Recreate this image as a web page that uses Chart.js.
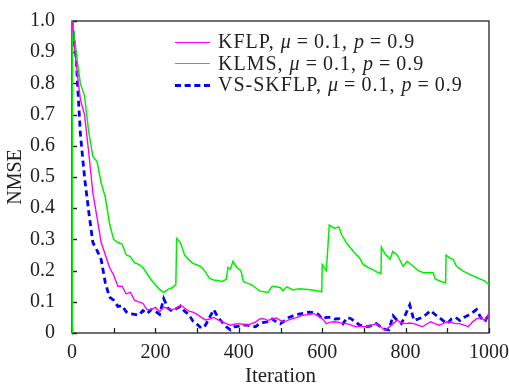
<!DOCTYPE html>
<html>
<head>
<meta charset="utf-8">
<script src="https://cdn.jsdelivr.net/npm/chart.js@4/dist/chart.umd.min.js"></script>
<style>
  html, body { margin: 0; padding: 0; background: #fff; }
  #wrap { position: relative; width: 509px; height: 390px; }
  #legend { position: absolute; left: 175px; top: 31px; font-family: "Liberation Serif", serif; font-size: 20px; color: #222; letter-spacing: 1px; }
  .row { height: 21.5px; line-height: 21.5px; white-space: nowrap; }
  .swatch { display: inline-block; width: 35px; height: 0; vertical-align: middle; margin-right: 8px; position: relative; top: -1px; }
  .eq { margin: 0 5px; }
</style>
</head>
<body>
<div id="wrap">
  <canvas id="chart" width="509" height="390"></canvas>
  <div id="legend"></div>
</div>
<script>
// Data

const iterations = [0, 10, 20, 30, 40, 50, 60, 70, 80, 90, 100, 110, 120, 130, 140, 150, 160, 170, 180, 190,
  200, 210, 220, 230, 240, 250, 260, 270, 280, 290, 300, 310, 320, 330, 340, 350, 360, 370, 380, 390,
  400, 410, 420, 430, 440, 450, 460, 470, 480, 490, 500, 510, 520, 530, 540, 550, 560, 570, 580, 590,
  600, 610, 620, 630, 640, 650, 660, 670, 680, 690, 700, 710, 720, 730, 740, 750, 760, 770, 780, 790,
  800, 810, 820, 830, 840, 850, 860, 870, 880, 890, 900, 910, 920, 930, 940, 950, 960, 970, 980, 990, 1000];

const kflp = [1.0, 0.86, 0.75, 0.70, 0.58, 0.45, 0.37, 0.29, 0.25, 0.21, 0.185, 0.15, 0.15, 0.125, 0.13, 0.105, 0.10, 0.095, 0.075, 0.075,
  0.082, 0.068, 0.083, 0.078, 0.075, 0.078, 0.09, 0.08, 0.07, 0.067, 0.06, 0.05, 0.042, 0.045, 0.05, 0.042, 0.036, 0.03, 0.025, 0.028,
  0.03, 0.028, 0.025, 0.03, 0.035, 0.045, 0.046, 0.04, 0.045, 0.048, 0.04, 0.036, 0.042, 0.046, 0.05, 0.056, 0.058, 0.06, 0.062, 0.055,
  0.046, 0.03, 0.035, 0.036, 0.034, 0.03, 0.03, 0.025, 0.02, 0.022, 0.02, 0.02, 0.025, 0.03, 0.02, 0.009, 0.018, 0.03, 0.041, 0.032,
  0.03, 0.032, 0.03, 0.025, 0.02, 0.028, 0.036, 0.03, 0.025, 0.03, 0.036, 0.034, 0.03, 0.03, 0.025, 0.02, 0.035, 0.045, 0.05, 0.04, 0.065];

const vsskflp = [1.0, 0.88, 0.64, 0.50, 0.39, 0.29, 0.265, 0.235, 0.16, 0.115, 0.105, 0.085, 0.088, 0.068, 0.062, 0.06, 0.057, 0.072, 0.062, 0.075,
  0.07, 0.06, 0.11, 0.08, 0.07, 0.078, 0.085, 0.07, 0.06, 0.038, 0.028, 0.015, 0.025, 0.05, 0.075, 0.05, 0.035, 0.02, 0.01, 0.02,
  0.022, 0.025, 0.025, 0.022, 0.02, 0.03, 0.034, 0.036, 0.045, 0.035, 0.03, 0.04, 0.05, 0.055, 0.06, 0.062, 0.065, 0.067, 0.065, 0.06,
  0.045, 0.05, 0.05, 0.045, 0.046, 0.03, 0.05, 0.045, 0.035, 0.025, 0.022, 0.02, 0.025, 0.03, 0.02, 0.012, 0.01, 0.055, 0.04, 0.03,
  0.06, 0.09, 0.04, 0.045, 0.05, 0.06, 0.072, 0.06, 0.05, 0.04, 0.03, 0.045, 0.05, 0.04, 0.05, 0.057, 0.065, 0.075, 0.05, 0.036, 0.065];

// KLMS has its own iteration points so the jumps stay vertical
const klmsIter = [0, 1, 10, 20, 30, 40, 50, 60, 70, 80, 90, 100, 110, 120, 130, 140, 150, 160, 170, 180, 190, 200, 210, 220, 230, 240, 249,
  251, 260, 270, 280, 290, 300, 310, 320, 330, 340, 350, 360, 370, 374, 380, 386, 395, 405, 411, 420, 430, 440, 450, 460, 470, 480,
  490, 500, 506, 515, 530, 545, 560, 580, 599, 600, 610, 617, 630, 640, 647, 660, 675, 690, 698, 710, 720, 735, 741, 742, 750, 763,
  769, 780, 794, 804, 818, 830, 843, 866, 871, 885, 896, 897, 906, 914, 922, 938, 954, 970, 980, 990, 1000];
const klms = [0, 1.0, 0.9, 0.80, 0.76, 0.645, 0.566, 0.55, 0.48, 0.435, 0.35, 0.30, 0.29, 0.285, 0.25, 0.245, 0.225, 0.22, 0.21, 0.19, 0.17, 0.155, 0.14, 0.13, 0.14, 0.145, 0.155,
  0.303, 0.29, 0.25, 0.235, 0.223, 0.218, 0.212, 0.195, 0.175, 0.17, 0.168, 0.165, 0.172, 0.21, 0.205, 0.23, 0.21, 0.2, 0.165, 0.16, 0.155, 0.145, 0.135, 0.132, 0.13, 0.15,
  0.148, 0.145, 0.135, 0.148, 0.138, 0.142, 0.14, 0.137, 0.132, 0.219, 0.20, 0.346, 0.335, 0.34, 0.314, 0.285, 0.261, 0.24, 0.22, 0.21, 0.204, 0.193, 0.19, 0.275, 0.255, 0.236,
  0.261, 0.25, 0.214, 0.23, 0.214, 0.2, 0.193, 0.193, 0.173, 0.165, 0.16, 0.25, 0.24, 0.236, 0.214, 0.198, 0.188, 0.178, 0.172, 0.167, 0.155];

const seriesNames = [
    'KFLP, <i>μ</i><span class="eq">=</span>0.1, <i>p</i><span class="eq">=</span>0.9',
    'KLMS, <i>μ</i><span class="eq">=</span>0.1, <i>p</i><span class="eq">=</span>0.9',
    'VS-SKFLP, <i>μ</i><span class="eq">=</span>0.1, <i>p</i><span class="eq">=</span>0.9'
];

const xTicks = [0, 100, 200, 300, 400, 500, 600, 700, 800, 900, 1000];
const xLabels = [0, 200, 400, 600, 800, 1000];
const yTicks = [0, 0.1, 0.2, 0.3, 0.4, 0.5, 0.6, 0.7, 0.8, 0.9, 1.0];

const pts = (xs, ys) => xs.map((x, i) => ({ x: x, y: ys[i] }));

const serif = "'Liberation Serif', 'Times New Roman', serif";
const ink = '#222';

// Frame and inward ticks, drawn under the lines
const framePlugin = {
    id: 'frame',
    beforeDatasetsDraw(chart) {
        const { ctx, chartArea: a, scales } = chart;
        ctx.save();
        ctx.strokeStyle = ink;
        ctx.lineWidth = 1.3;
        ctx.strokeRect(a.left, a.top, a.right - a.left, a.bottom - a.top);
        ctx.beginPath();
        xTicks.forEach(v => {
            const px = Math.round(scales.x.getPixelForValue(v)) + 0.5;
            ctx.moveTo(px, a.bottom);
            ctx.lineTo(px, a.bottom - 5);
        });
        yTicks.forEach(v => {
            const py = Math.round(scales.y.getPixelForValue(v)) + 0.5;
            ctx.moveTo(a.left, py);
            ctx.lineTo(a.left + 5, py);
        });
        ctx.stroke();
        ctx.restore();
    }
};

const chart = new Chart(document.getElementById("chart"), {
    type: 'line',
    data: {
        datasets: [{
            label: seriesNames[0],
            data: pts(iterations, kflp),
            borderColor: '#ff00ff',
            borderWidth: 1.4
        }, {
            label: seriesNames[1],
            data: pts(klmsIter, klms),
            borderColor: '#00ee00',
            borderWidth: 1.5
        }, {
            label: seriesNames[2],
            data: pts(iterations, vsskflp),
            borderColor: '#0000ff',
            borderWidth: 2.8,
            borderDash: [6, 4]
        }]
    },
    options: {
        responsive: false,
        animation: false,
        events: [],
        layout: { padding: { left: 0, top: 15, right: 20, bottom: 0 } },
        elements: { point: { radius: 0 }, line: { tension: 0 } },
        scales: {
            x: {
                type: 'linear',
                min: 0, max: 1000,
                afterFit: s => { s.height = 57; },
                afterBuildTicks: s => { s.ticks = xLabels.map(v => ({ value: v })); },
                grid: { display: false },
                border: { display: false },
                ticks: { color: ink, font: { family: serif, size: 20 }, maxRotation: 0, padding: 0, callback: v => String(v) },
                title: { display: true, text: 'Iteration', color: ink, font: { family: serif, size: 21 }, padding: { top: 4, bottom: 1 } }
            },
            y: {
                min: 0, max: 1,
                afterFit: s => { s.width = 72; },
                afterBuildTicks: s => { s.ticks = yTicks.map(v => ({ value: v })); },
                grid: { display: false },
                border: { display: false },
                ticks: {
                    color: ink, font: { family: serif, size: 20 }, padding: 9,
                    callback: v => v === 0 ? '0' : v.toFixed(1)
                },
                title: { display: true, text: 'NMSE', color: ink, font: { family: serif, size: 20 }, padding: { top: 4, bottom: 0 } }
            }
        },
        plugins: {
            legend: { display: false },
            tooltip: { enabled: false }
        }
    },
    plugins: [framePlugin]
});

// Legend built from the datasets
const legendBox = document.getElementById("legend");
legendBox.innerHTML = chart.data.datasets.map(ds => {
    const style = ds.borderDash
        ? `border-top: 3px dashed ${ds.borderColor};`
        : `border-top: 1.5px solid ${ds.borderColor};`;
    return `<div class="row"><span class="swatch" style="${style}"></span>${ds.label}</div>`;
}).join('');
</script>
</body>
</html>
